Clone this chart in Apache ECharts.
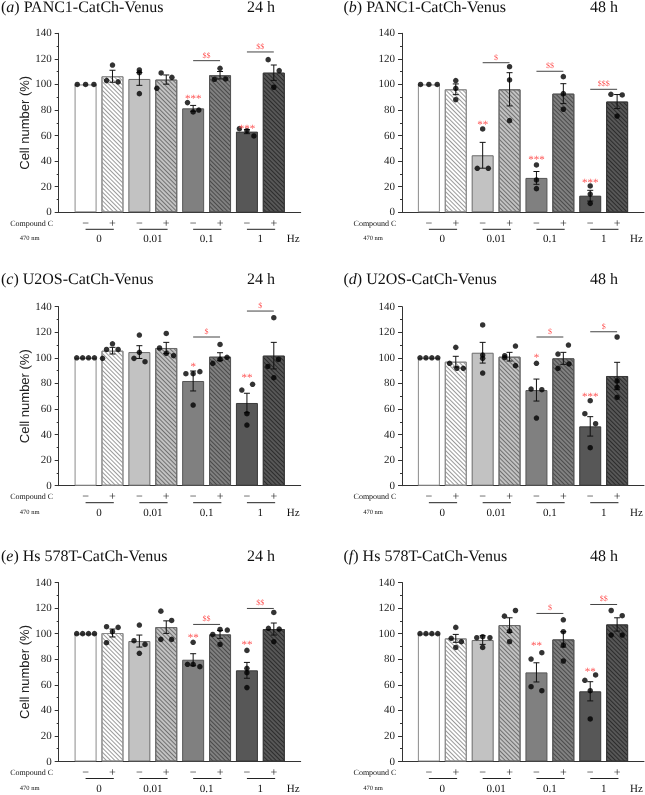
<!DOCTYPE html>
<html>
<head>
<meta charset="utf-8">
<script src="https://cdn.jsdelivr.net/npm/echarts@6/dist/echarts.min.js"></script>
<style>
html, body { margin: 0; padding: 0; background: #fff; }
#chart { width: 645px; height: 795px; -webkit-font-smoothing: antialiased; }
#chart svg { will-change: transform; text-rendering: geometricPrecision; }
</style>
</head>
<body>
<div id="chart"></div>
<script>
// labels
var panelLetters = ['a', 'b', 'c', 'd', 'e', 'f']
var cellLines = ['PANC1-CatCh-Venus', 'PANC1-CatCh-Venus', 'U2OS-CatCh-Venus', 'U2OS-CatCh-Venus', 'Hs 578T-CatCh-Venus', 'Hs 578T-CatCh-Venus']
var timePoints = ['24 h', '48 h', '24 h', '48 h', '24 h', '48 h']
var signLabels = ['\u2212', '+']
var hzLabels = ['0', '0.01', '0.1', '1']
var rowLabels = ['Compound C', '470 nm']
var unitLabel = 'Hz'
var yName = 'Cell number (%)'

// (a) PANC1 24 h
var meanA = [100, 106.4, 104.3, 103.8, 81.3, 107.2, 63.1, 109.2]
var semA = [0, 4.7, 5, 3.6, 2.3, 2.9, 1.6, 6]
var dotsA = [
  [[-0.31, 100], [0, 100], [0.31, 100]],
  [[0, 115.2], [-0.22, 103], [0.21, 102]],
  [[0, 111.3], [0, 109.2], [0, 92.8]],
  [[-0.19, 109], [-0.35, 97], [0.21, 105.6]],
  [[-0.21, 85.8], [0, 78.5], [0.21, 80]],
  [[0, 112.6], [-0.21, 104], [0.21, 104.3]],
  [[-0.28, 65.4], [0, 63.9], [0.26, 59.7]],
  [[-0.21, 119.4], [0.2, 110.8], [0, 97.8]]
]
var starsA = [[5, '***', 90.5], [7, '***', 67]]
var dollarsA = [[5, '$$', 118.6], [7, '$$', 125.4]]

// (b) PANC1 48 h
var meanB = [100, 96.2, 44.6, 96.2, 26.9, 92.8, 13, 86.6]
var semB = [0, 4.2, 10.1, 13, 5, 7.8, 4.2, 5.5]
var dotsB = [
  [[-0.31, 100], [0, 100], [0.31, 100]],
  [[0, 103], [0, 97], [0, 88.1]],
  [[0, 65.2], [-0.2, 34.4], [0.21, 34.4]],
  [[0, 113.9], [0, 103.5], [0, 71.7]],
  [[0, 37], [0, 25.3], [0, 18.5]],
  [[0, 106.1], [0, 92.8], [0, 80.6]],
  [[0, 20.6], [0, 14.3], [0, 7]],
  [[-0.23, 92.3], [0.19, 91.8], [0, 75.3]]
]
var starsB = [[3, '**', 70], [5, '***', 42.8], [7, '***', 24.5]]
var dollarsB = [[3, '$', 117], [5, '$$', 110.3], [7, '$$$', 96.2]]

// (c) U2OS 24 h
var meanC = [100, 105.6, 104.5, 107.7, 81.9, 100.9, 64.7, 101.7]
var semC = [0, 2.6, 5, 4.4, 7.8, 3.1, 7.6, 10.4]
var dotsC = [
  [[-0.33, 100], [-0.11, 100], [0.11, 100], [0.33, 100]],
  [[-0.22, 106.6], [0, 111], [0.21, 106.6], [-0.37, 99.6]],
  [[0, 117.8], [-0.2, 99.6], [0, 104.3], [0.21, 97]],
  [[0, 119.1], [-0.25, 107.7], [0, 103.5], [0.27, 101.7]],
  [[-0.27, 87.6], [0, 87.6], [0.25, 89.2], [0, 63.1]],
  [[0, 110.5], [-0.27, 95.7], [0, 98.8], [0.26, 100.4]],
  [[-0.19, 74.8], [0.21, 79.3], [0, 56.3], [0, 47.4]],
  [[0, 131.4], [-0.22, 93.3], [0.17, 98.8], [0, 84.5]]
]
var starsC = [[5, '*', 94.9], [7, '**', 86]]
var dollarsC = [[5, '$', 116.3], [7, '$', 136.6]]

// (d) U2OS 48 h
var meanD = [100, 97, 104, 100.9, 74.8, 99.6, 46.4, 85.8]
var semD = [0, 4.2, 8.1, 3.4, 8.6, 4.7, 7.6, 10.7]
var dotsD = [
  [[-0.33, 100], [-0.11, 100], [0.11, 100], [0.33, 100]],
  [[0, 108.2], [-0.23, 95.7], [0.04, 91.8], [0.28, 91.8]],
  [[0, 125.7], [0, 102.2], [0, 99.6], [0, 88.1]],
  [[-0.18, 101.7], [-0.18, 100.1], [0.22, 109.2], [0.22, 93.9]],
  [[0, 95.7], [-0.2, 75.6], [0.2, 75.1], [0, 52.9]],
  [[-0.2, 103], [0.19, 110], [-0.2, 91.8], [0.21, 95.2]],
  [[0, 66.5], [-0.2, 56.3], [0.2, 48.5], [0, 29.7]],
  [[0, 116.3], [0, 81.9], [0, 76.9], [0, 69.1]]
]
var starsD = [[5, '*', 102.2], [7, '***', 71.4]]
var dollarsD = [[5, '$', 116.3], [7, '$', 120.4]]

// (e) Hs 578T 24 h
var meanE = [100, 100.5, 94.2, 105.1, 79.6, 99.4, 71.3, 103.6]
var semE = [0, 3.1, 4.7, 4.9, 4.7, 3.1, 6.2, 4.7]
var dotsE = [
  [[-0.33, 100], [-0.11, 100], [0.11, 100], [0.33, 100]],
  [[-0.22, 105.4], [0, 101.5], [0.21, 104.9], [-0.22, 92.9]],
  [[0, 106.7], [-0.2, 94.5], [0.21, 91.6], [0, 84.6]],
  [[-0.2, 117.6], [0.2, 110.3], [-0.2, 95.5], [0.2, 95.5]],
  [[0, 93.2], [-0.21, 76], [0, 76], [0.25, 74.2]],
  [[-0.27, 99.4], [0, 103.3], [0.27, 102.8], [0, 91.6]],
  [[0, 86.9], [0, 72.9], [0, 69.5], [0, 57.8]],
  [[0, 116.6], [-0.2, 104.1], [0.2, 103.6], [0, 93.7]]
]
var starsE = [[5, '**', 98.4], [7, '**', 93.2]]
var dollarsE = [[5, '$$', 107.2], [7, '$$', 119.7]]

// (f) Hs 578T 48 h
var meanF = [100, 96.3, 95, 106.7, 69.7, 95.5, 54.9, 107.2]
var semF = [0, 3.1, 3.4, 5.7, 7.5, 6, 7.5, 5.2]
var dotsF = [
  [[-0.33, 100], [-0.11, 100], [0.11, 100], [0.33, 100]],
  [[0, 104.9], [-0.17, 96.3], [0.21, 93.7], [0, 89.2]],
  [[-0.22, 96.8], [0, 97.6], [0.27, 96.8], [0, 89.2]],
  [[-0.19, 113.7], [0.22, 118.1], [0, 102], [0, 93.7]],
  [[-0.2, 80.1], [0.2, 85.1], [-0.2, 58.5], [0.2, 55.4]],
  [[0, 110.8], [0, 101.5], [0, 91.1], [0, 78.6]],
  [[-0.2, 63.5], [0.2, 67.7], [0, 55.4], [0, 33.3]],
  [[-0.22, 118.1], [0.19, 114], [-0.22, 98.9], [0.19, 98.9]]
]
var starsF = [[5, '**', 92.4], [7, '**', 72.3]]
var dollarsF = [[5, '$', 115.8], [7, '$$', 122.8]]

var panels = [
  [meanA, semA, dotsA, starsA, dollarsA],
  [meanB, semB, dotsB, starsB, dollarsB],
  [meanC, semC, dotsC, starsC, dollarsC],
  [meanD, semD, dotsD, starsD, dollarsD],
  [meanE, semE, dotsE, starsE, dollarsE],
  [meanF, semF, dotsF, starsF, dollarsF]
]

// look
var SERIF = '"Liberation Serif", "Times New Roman", serif'
var SANS = '"Liberation Sans", Arial, sans-serif'
var RED = '#ff4f4f'
var INK = '#111'
var gridLeft = [58.7, 402]
var gridTop = [33.3, 306.7, 582.5]
var titleTop = [-0.5, 271, 548.5]
var barFill = ['#ffffff', '#ffffff', '#c2c2c2', '#c2c2c2', '#808080', '#808080', '#575757', '#575757']
var barBorder = ['#8a8a8a', '#8a8a8a', '#6a6a6a', '#6a6a6a', '#555', '#555', '#3a3a3a', '#3a3a3a']
var hatchColor = ['', '#9a9a9a', '', '#707070', '', '#4a4a4a', '', '#2c2c2c']

function txt(x, y, text, size, fill, family) {
  return {
    type: 'text',
    x: x,
    y: y,
    style: {
      text: text,
      fill: fill || INK,
      fontSize: size,
      fontFamily: family || SERIF,
      align: 'center',
      verticalAlign: 'middle'
    }
  }
}

var chart = echarts.init(document.getElementById('chart'), null, { renderer: 'svg' })

var grids = []
var xAxes = []
var yAxes = []
var titles = []
var series = []

panels.forEach(function(p, i) {
  var col = i % 2
  var row = Math.floor(i / 2)
  var mean = p[0], sem = p[1], dots = p[2], stars = p[3], dollars = p[4]

  grids.push({ left: gridLeft[col], top: gridTop[row], width: 242, height: 179 })

  titles.push({
    text: '({it|' + panelLetters[i] + '}) ' + cellLines[i],
    left: col ? 343.5 : 1,
    top: titleTop[row],
    padding: 0,
    textStyle: {
      fontFamily: SERIF, fontSize: 16, fontWeight: 'normal', color: INK,
      rich: { it: { fontFamily: SERIF, fontSize: 16, fontStyle: 'italic', color: INK } }
    }
  })
  titles.push({
    text: timePoints[i],
    left: (col ? 590 : 247),
    top: titleTop[row],
    padding: 0,
    textStyle: { fontFamily: SERIF, fontSize: 16, fontWeight: 'normal', color: INK }
  })

  xAxes.push({
    gridIndex: i,
    type: 'value',
    min: 0,
    max: 9,
    axisLine: { show: true, onZero: false, lineStyle: { color: '#333', width: 1 } },
    axisTick: { show: false },
    axisLabel: { show: false },
    splitLine: { show: false }
  })
  yAxes.push({
    gridIndex: i,
    type: 'value',
    min: 0,
    max: 140,
    interval: 20,
    name: col ? '' : yName,
    nameLocation: 'middle',
    nameGap: 26,
    nameTextStyle: { fontFamily: SANS, fontSize: 13, color: '#222' },
    axisLine: { show: true, lineStyle: { color: '#333', width: 1 } },
    axisTick: { show: true, inside: false, length: 4, lineStyle: { color: '#333' } },
    minorTick: { show: true, splitNumber: 2, length: 2, lineStyle: { color: '#333' } },
    axisLabel: { fontFamily: SERIF, fontSize: 11, color: '#222', margin: 7 },
    splitLine: { show: false }
  })

  // bars
  series.push({
    type: 'bar',
    xAxisIndex: i,
    yAxisIndex: i,
    barWidth: 22,
    z: 2,
    animation: false,
    data: mean.map(function(v, k) {
      var st = { color: barFill[k], borderColor: barBorder[k], borderWidth: 1 }
      if (k % 2 === 1) {
        st.decal = {
          symbol: 'rect',
          symbolSize: 1,
          color: hatchColor[k],
          dashArrayX: [1, 0],
          dashArrayY: [1, 1.3],
          rotation: Math.PI / 4
        }
      }
      return { value: [k + 1, v], itemStyle: st }
    })
  })

  // error bars
  series.push({
    type: 'custom',
    xAxisIndex: i,
    yAxisIndex: i,
    z: 3,
    animation: false,
    data: mean.map(function(v, k) { return [k + 1, v, sem[k]] }),
    renderItem: function(params, api) {
      var x = api.value(0), m = api.value(1), e = api.value(2)
      if (!e) return { type: 'group', children: [] }
      var top = api.coord([x, m + e])
      var bot = api.coord([x, m - e])
      var w = 3
      var ls = { stroke: INK, lineWidth: 1 }
      return {
        type: 'group',
        children: [
          { type: 'line', shape: { x1: top[0], y1: top[1], x2: bot[0], y2: bot[1] }, style: ls },
          { type: 'line', shape: { x1: top[0] - w, y1: top[1], x2: top[0] + w, y2: top[1] }, style: ls },
          { type: 'line', shape: { x1: bot[0] - w, y1: bot[1], x2: bot[0] + w, y2: bot[1] }, style: ls }
        ]
      }
    }
  })

  // individual points
  var pts = []
  dots.forEach(function(list, k) {
    list.forEach(function(d) { pts.push([k + 1 + d[0], d[1]]) })
  })
  series.push({
    type: 'scatter',
    xAxisIndex: i,
    yAxisIndex: i,
    z: 4,
    animation: false,
    symbolSize: 5.5,
    itemStyle: { color: '#000' },
    data: pts
  })

  // asterisks
  series.push({
    type: 'custom',
    xAxisIndex: i,
    yAxisIndex: i,
    z: 5,
    animation: false,
    data: stars.map(function(s) { return [s[0], s[2]] }),
    renderItem: function(params, api) {
      var c = api.coord([api.value(0), api.value(1)])
      return txt(c[0], c[1] + 2.5, stars[params.dataIndex][1], 11, RED)
    }
  })

  // $ comparison brackets
  series.push({
    type: 'custom',
    xAxisIndex: i,
    yAxisIndex: i,
    z: 5,
    animation: false,
    data: dollars.map(function(s) { return [s[0], s[2]] }),
    renderItem: function(params, api) {
      var a = api.coord([api.value(0), api.value(1)])
      var b = api.coord([api.value(0) + 1, api.value(1)])
      return {
        type: 'group',
        children: [
          { type: 'line', shape: { x1: a[0], y1: a[1], x2: b[0], y2: b[1] }, style: { stroke: '#444', lineWidth: 1 } },
          txt((a[0] + b[0]) / 2, a[1] - 5.5, dollars[params.dataIndex][1], 8, RED)
        ]
      }
    }
  })

  // -/+ under each bar
  series.push({
    type: 'custom',
    xAxisIndex: i,
    yAxisIndex: i,
    z: 5,
    animation: false,
    data: mean.map(function(v, k) { return [k + 1, 0] }),
    renderItem: function(params, api) {
      var c = api.coord([api.value(0), 0])
      return txt(c[0], c[1] + 10.5, signLabels[params.dataIndex % 2], 12)
    }
  })

  // frequency groups
  series.push({
    type: 'custom',
    xAxisIndex: i,
    yAxisIndex: i,
    z: 5,
    animation: false,
    data: hzLabels.map(function(h, g) { return [2 * g + 1, 0] }),
    renderItem: function(params, api) {
      var x = api.value(0)
      var a = api.coord([x, 0])
      var b = api.coord([x + 1.05, 0])
      var m = api.coord([x + 0.5, 0])
      var kids = [
        { type: 'line', shape: { x1: a[0], y1: a[1] + 17, x2: b[0], y2: b[1] + 17 }, style: { stroke: '#222', lineWidth: 1 } },
        txt(m[0], m[1] + 27, hzLabels[params.dataIndex], 11)
      ]
      if (params.dataIndex === 0) {
        var o = api.coord([0, 0])
        kids.push(txt(o[0] - 27, o[1] + 10.8, rowLabels[0], 8))
        kids.push(txt(o[0] - 29, o[1] + 26.5, rowLabels[1], 6.5))
      }
      if (params.dataIndex === hzLabels.length - 1) {
        var h = api.coord([8.72, 0])
        kids.push(txt(h[0], h[1] + 27, unitLabel, 11))
      }
      return { type: 'group', children: kids }
    }
  })
})

chart.setOption({
  backgroundColor: '#fff',
  animation: false,
  title: titles,
  grid: grids,
  xAxis: xAxes,
  yAxis: yAxes,
  series: series
})
</script>
</body>
</html>
